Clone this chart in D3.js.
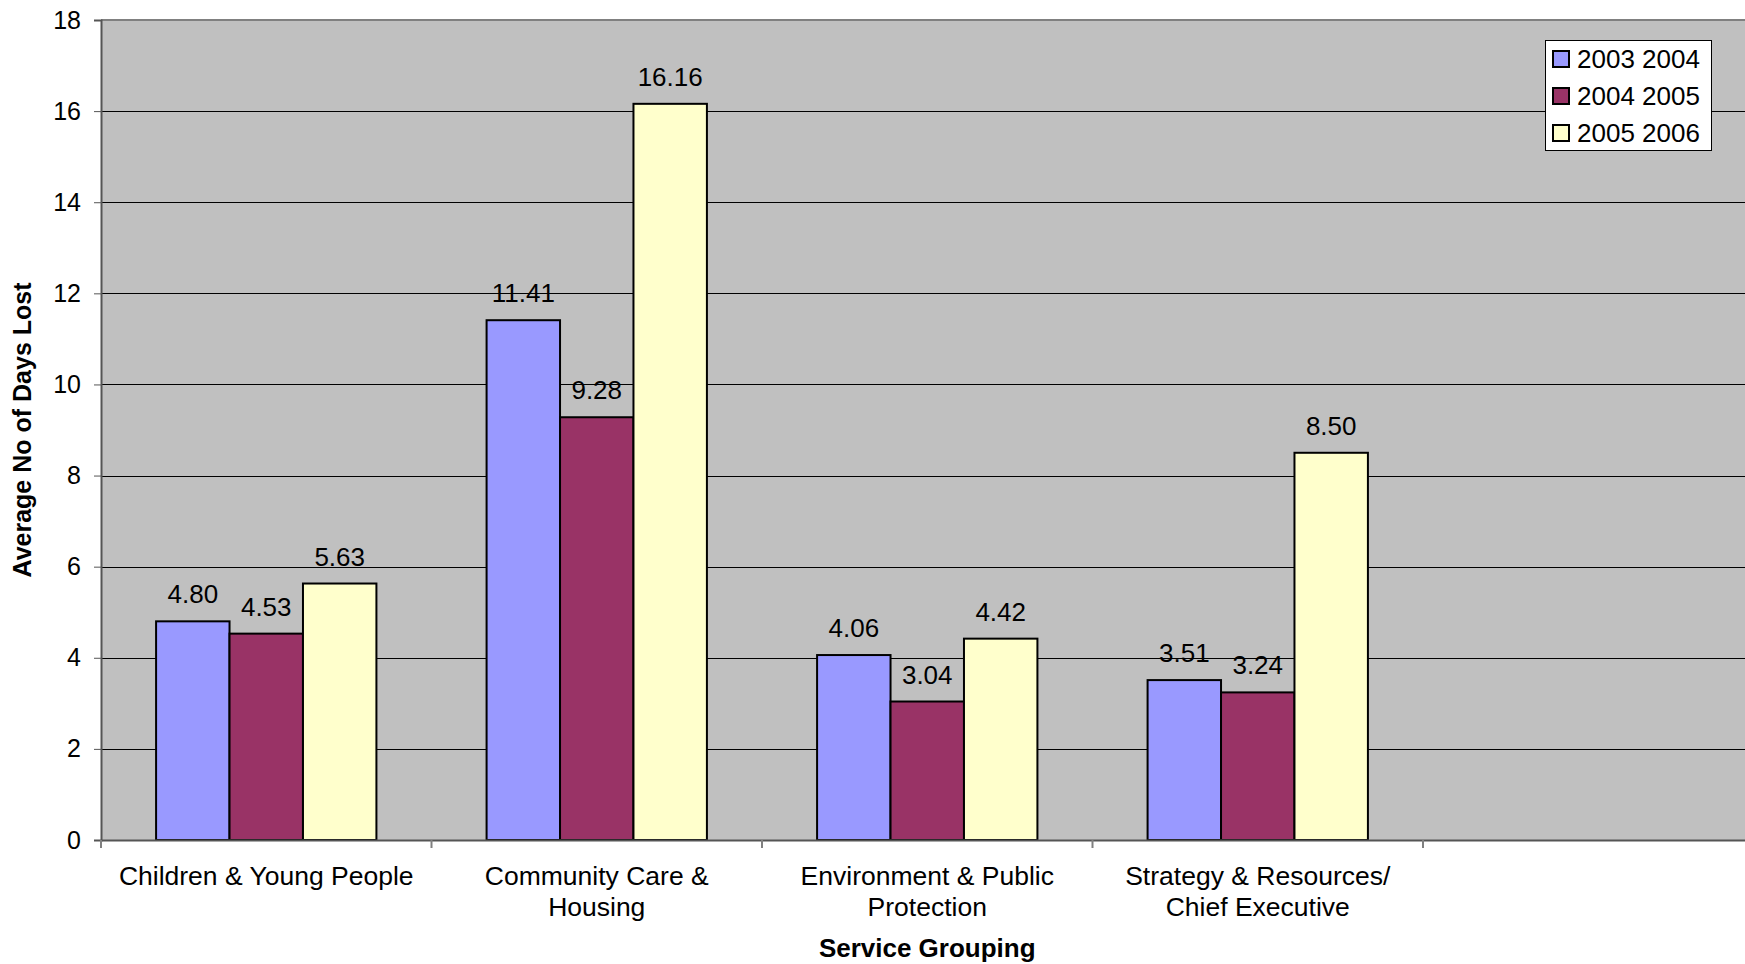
<!DOCTYPE html>
<html>
<head>
<meta charset="utf-8">
<script src="https://cdn.jsdelivr.net/npm/d3@7"></script>
<style>
  html, body { margin: 0; padding: 0; background: #fff; }
  svg { display: block; }
  text { font-family: "Liberation Sans", Arial, sans-serif; fill: #000; }
</style>
</head>
<body>
<svg id="chart" width="1745" height="964"></svg>
<script>
const categories = ["Children & Young People", "Community Care & Housing", "Environment & Public Protection", "Strategy & Resources/ Chief Executive", ""];
const categoryLines = [["Children & Young People"], ["Community Care &", "Housing"], ["Environment & Public", "Protection"], ["Strategy & Resources/", "Chief Executive"], [""]];
const seriesNames = ["2003 2004", "2004 2005", "2005 2006"];
const values2003_2004 = [4.80, 11.41, 4.06, 3.51, null];
const values2004_2005 = [4.53, 9.28, 3.04, 3.24, null];
const values2005_2006 = [5.63, 16.16, 4.42, 8.50, null];
const seriesColors = ["#9999FF", "#993366", "#FFFFCC"];
const yTicks = [0, 2, 4, 6, 8, 10, 12, 14, 16, 18];
const yTitle = "Average No of Days Lost";
const xTitle = "Service Grouping";

const seriesValues = [values2003_2004, values2004_2005, values2005_2006];

const svg = d3.select("#chart");
const plot = { left: 101, top: 20, right: 1753.5, bottom: 840 };

const x = d3.scaleBand().domain(categories).range([plot.left, plot.right]).padding(0);
const xs = d3.scaleBand().domain(seriesNames).range([0, x.bandwidth()]).paddingInner(0).paddingOuter(0.75);
const y = d3.scaleLinear().domain([0, 18]).range([plot.bottom, plot.top]);

// plot background
svg.append("rect")
  .attr("x", plot.left).attr("y", plot.top)
  .attr("width", plot.right - plot.left).attr("height", plot.bottom - plot.top)
  .attr("fill", "#C0C0C0");

// gridlines
svg.append("g").selectAll("line").data(yTicks.filter(d => d > 0 && d < 18)).join("line")
  .attr("x1", plot.left).attr("x2", plot.right)
  .attr("y1", d => Math.round(y(d)) + 0.5).attr("y2", d => Math.round(y(d)) + 0.5)
  .attr("stroke", "#000").attr("stroke-width", 1);

// plot border (top)
svg.append("line").attr("x1", plot.left).attr("x2", plot.right)
  .attr("y1", plot.top).attr("y2", plot.top).attr("stroke", "#808080").attr("stroke-width", 2);

// bars and value labels
seriesNames.forEach((s, si) => {
  const data = categories.map((c, ci) => ({ c, v: seriesValues[si][ci] })).filter(d => d.v != null);
  const g = svg.append("g");
  g.selectAll("rect").data(data).join("rect")
    .attr("x", d => x(d.c) + xs(s))
    .attr("y", d => y(d.v))
    .attr("width", xs.bandwidth())
    .attr("height", d => y(0) - y(d.v))
    .attr("fill", seriesColors[si])
    .attr("stroke", "#000").attr("stroke-width", 2);
  g.selectAll("text").data(data).join("text")
    .attr("x", d => x(d.c) + xs(s) + xs.bandwidth() / 2)
    .attr("y", d => y(d.v) - 18)
    .attr("text-anchor", "middle")
    .attr("font-size", 26)
    .text(d => d.v.toFixed(2));
});

// y axis
const yAxis = d3.axisLeft(y).tickValues(yTicks).tickSize(7).tickPadding(13).tickFormat(d3.format("d"));
const yg = svg.append("g").attr("transform", `translate(${plot.left},0)`).call(yAxis);
yg.select(".domain").attr("stroke", "#555").attr("stroke-width", 2);
yg.selectAll(".tick line").attr("stroke", "#555");
yg.selectAll(".tick text").attr("font-size", 25).attr("font-family", "Liberation Sans, Arial, sans-serif").attr("fill", "#000");

// x axis
const xAxis = d3.axisBottom(x).tickSize(0).tickFormat("");
const xg = svg.append("g").attr("transform", `translate(0,${plot.bottom})`).call(xAxis);
xg.select(".domain").attr("stroke", "#555").attr("stroke-width", 2);
xg.selectAll(".tick").remove();
const bounds = categories.map(c => x(c)).concat([x(categories[categories.length - 1]) + x.bandwidth()]);
xg.selectAll(".bt").data(bounds).join("line").attr("class", "bt")
  .attr("x1", d => d).attr("x2", d => d).attr("y1", 0).attr("y2", 8)
  .attr("stroke", "#808080").attr("stroke-width", 2);

// category labels
categories.forEach((c, ci) => {
  const cx = x(c) + x.bandwidth() / 2;
  const t = svg.append("text")
    .attr("x", cx)
    .attr("y", 885)
    .attr("text-anchor", "middle")
    .attr("font-size", 26.5);
  categoryLines[ci].forEach((line, li) => {
    t.append("tspan").attr("x", cx).attr("dy", li === 0 ? 0 : 31).text(line);
  });
});

// axis titles
svg.append("text")
  .attr("x", (plot.left + plot.right) / 2).attr("y", 957)
  .attr("text-anchor", "middle").attr("font-size", 26).attr("font-weight", "bold")
  .text(xTitle);
svg.append("text")
  .attr("transform", `translate(31,${(plot.top + plot.bottom) / 2}) rotate(-90)`)
  .attr("text-anchor", "middle").attr("font-size", 25).attr("font-weight", "bold")
  .text(yTitle);

// legend
const lg = svg.append("g");
lg.append("rect").attr("x", 1545.5).attr("y", 40.5).attr("width", 166).attr("height", 110)
  .attr("fill", "#fff").attr("stroke", "#000").attr("stroke-width", 1);
seriesNames.forEach((s, i) => {
  const cy = 59 + i * 37;
  lg.append("rect").attr("x", 1553).attr("y", cy - 8).attr("width", 16).attr("height", 16)
    .attr("fill", seriesColors[i]).attr("stroke", "#000").attr("stroke-width", 2);
  lg.append("text").attr("x", 1577).attr("y", cy + 9).attr("font-size", 26).text(s);
});
</script>
</body>
</html>
